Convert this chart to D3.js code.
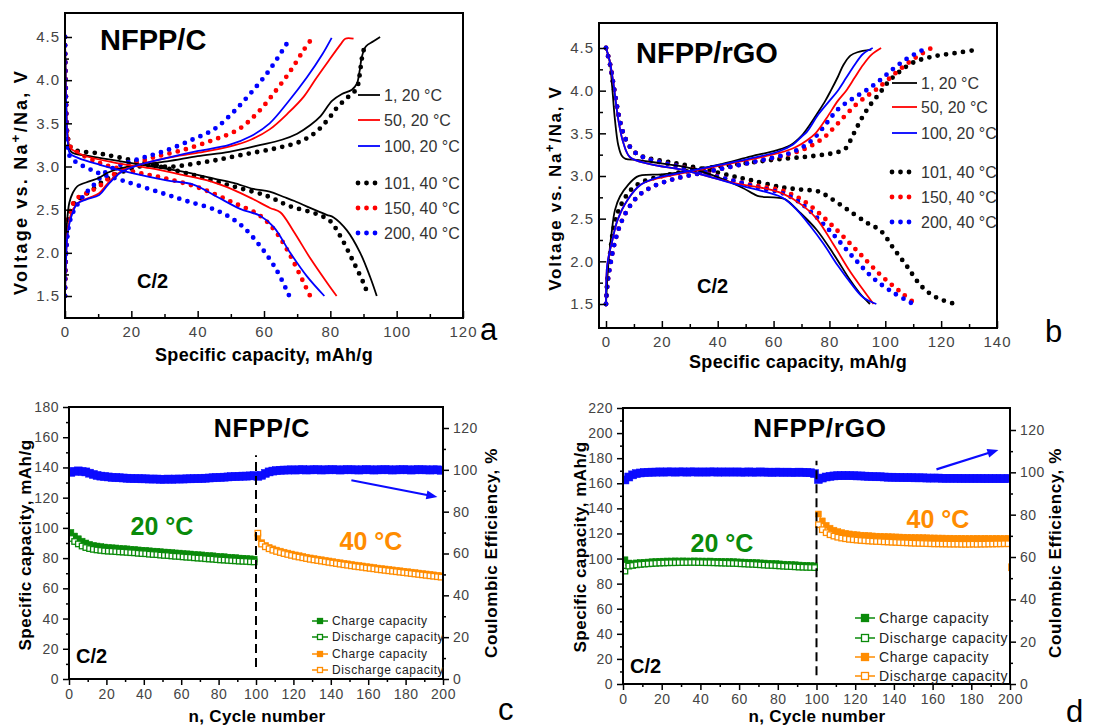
<!DOCTYPE html>
<html>
<head>
<meta charset="utf-8">
<script src="https://cdn.jsdelivr.net/npm/d3@7"></script>
<style>
  body { margin: 0; background: #fff; }
  svg text { font-family: "Liberation Sans", Arial, sans-serif; }
</style>
</head>
<body>
<svg id="fig" width="1110" height="728"></svg>
<script>
//Voltage profiles NFPP/C (panel a), points are [capacity mAh/g, voltage V]
const aCharge1 = [[0,1.5],[0.2,2.0],[0.6,2.35],[1.3,2.58],[2.3,2.69],[3.7,2.77],[7.5,2.83],[10.3,2.87],[13,2.93],[16.8,2.98],[22.4,3.02],[30.8,3.06],[40,3.12],[49.5,3.17],[59,3.25],[65.4,3.31],[70,3.38],[74,3.48],[77,3.58],[80.5,3.76],[83.5,3.84],[86.5,3.89],[88,3.96],[88.8,4.1],[89.5,4.27],[90.7,4.39],[93,4.45],[95,4.5]];
const aDis1 = [[0,4.5],[0.3,3.8],[0.8,3.35],[1.9,3.17],[7.5,3.12],[16.8,3.06],[26.2,3.0],[35.5,2.94],[44.9,2.86],[50.8,2.81],[56.8,2.74],[61.7,2.71],[65.8,2.65],[69.2,2.6],[73.9,2.52],[78.9,2.44],[81,2.41],[85,2.26],[89,2.0],[92,1.72],[94,1.5]];
const aCharge50 = [[0,1.5],[0.3,1.95],[0.9,2.27],[2.3,2.5],[4.7,2.6],[7.5,2.64],[10.3,2.69],[13,2.81],[16.8,2.94],[22.4,3.02],[30.8,3.1],[40.2,3.16],[49.5,3.23],[56,3.31],[61.7,3.43],[67.3,3.62],[72,3.81],[75.7,4.02],[79.4,4.22],[83.2,4.42],[84.5,4.48],[87,4.48]];
const aDis50 = [[0,4.5],[0.3,3.8],[0.8,3.35],[1.5,3.22],[5.5,3.13],[15.6,3.04],[25.6,2.98],[35.7,2.9],[43.7,2.83],[50.8,2.73],[56.8,2.62],[61.8,2.52],[64.9,2.47],[68.9,2.25],[73.9,1.94],[78.9,1.66],[81.9,1.5]];
const aCharge100 = [[0,1.5],[0.3,1.9],[0.7,2.19],[1.9,2.42],[3.7,2.57],[6.5,2.62],[10.3,2.67],[13,2.79],[16.8,2.93],[22.4,3.02],[30.8,3.1],[40.2,3.18],[49.5,3.25],[56,3.35],[61.7,3.5],[67.3,3.75],[72.9,4.03],[77.6,4.3],[80.4,4.49]];
const aDis100 = [[0,4.5],[0.3,3.8],[0.8,3.3],[1.5,3.15],[3.9,3.1],[10.5,3.02],[20.6,2.92],[30.6,2.84],[38.7,2.79],[45.8,2.65],[52.8,2.51],[58.8,2.43],[62.9,2.3],[67.9,2.0],[72.9,1.73],[78.2,1.5]];
const aCharge101 = [[0,1.5],[0.3,2.0],[1,2.35],[2.3,2.55],[4.7,2.64],[7.5,2.71],[12,2.84],[16.8,2.93],[22.4,3.0],[27,3.02],[30,3.0],[33,3.0],[37,3.02],[45,3.07],[54,3.14],[63.5,3.21],[71,3.29],[75.7,3.4],[79.4,3.55],[82.2,3.69],[85.5,3.81],[87.9,3.9],[88.8,4.05],[89.5,4.25],[90.5,4.42]];
const aDis101 = [[0,4.5],[0.3,3.8],[0.8,3.35],[2,3.21],[10.5,3.15],[20.6,3.07],[30.6,2.98],[40.7,2.88],[50.7,2.77],[60.8,2.66],[67.8,2.54],[75.9,2.45],[79.9,2.37],[82.9,2.2],[86.9,1.9],[90,1.65],[91.5,1.5]];
const aCharge150 = [[0,1.5],[0.3,2.0],[0.9,2.4],[3.3,2.62],[6.5,2.69],[10.3,2.77],[14,2.89],[18.7,3.0],[26.2,3.1],[35.5,3.19],[44.9,3.31],[52.3,3.43],[58,3.62],[63.6,3.88],[68.2,4.12],[72,4.35],[74.8,4.5]];
const aDis150 = [[0,4.5],[0.3,3.8],[0.8,3.35],[1.6,3.23],[10.5,3.04],[20.6,2.94],[30.6,2.86],[40.7,2.75],[50.8,2.58],[58.8,2.43],[63.8,2.23],[67.9,1.97],[71.9,1.66],[73.9,1.5]];
const aCharge200 = [[0,1.5],[0.3,2.0],[1.9,2.42],[5.6,2.66],[9.3,2.81],[12.1,2.93],[16.8,3.02],[23.4,3.1],[30.8,3.19],[38.3,3.31],[44.9,3.43],[50.5,3.62],[56,3.85],[61.7,4.12],[67.3,4.45]];
const aDis200 = [[0,4.5],[0.3,3.7],[0.8,3.25],[1.6,3.11],[8.5,2.95],[18,2.83],[28.6,2.7],[36.7,2.6],[45.8,2.49],[52.8,2.33],[58.8,2.08],[63.8,1.8],[67.5,1.51]];

//Voltage profiles NFPP/rGO (panel b)
const bCharge1 = [[0,1.5],[0.8,1.95],[2,2.33],[3.2,2.6],[5,2.76],[8,2.9],[11,2.99],[13,3.01],[20,3.02],[28,3.05],[40,3.13],[52,3.23],[61,3.3],[66,3.36],[70,3.47],[73,3.6],[76,3.75],[78.5,3.88],[80.5,4.0],[83,4.16],[85,4.3],[87.5,4.41],[90,4.45],[95,4.48]];
const bDis1 = [[0,4.5],[1.3,4.35],[2.2,4.05],[3.2,3.66],[4.4,3.36],[5.6,3.24],[7,3.2],[11,3.19],[19,3.15],[27.7,3.11],[33.6,3.06],[42,2.96],[49,2.86],[52.8,2.79],[55,2.76],[60,2.75],[64,2.73],[69.5,2.57],[75.4,2.37],[81.4,2.09],[87.4,1.78],[91,1.62],[94.5,1.5]];
const bCharge50 = [[0,1.5],[0.5,1.97],[2.3,2.25],[4.1,2.48],[7.7,2.72],[12.5,2.9],[17.2,2.96],[27,3.03],[39,3.11],[51,3.19],[62,3.27],[68,3.34],[72,3.42],[75,3.5],[79,3.68],[83,3.88],[86,4.0],[89,4.15],[92,4.3],[95,4.42],[98.5,4.5]];
const bDis50 = [[0,4.5],[1.3,4.35],[2.6,4.1],[4.4,3.66],[6.2,3.39],[8.6,3.22],[15.8,3.14],[27.7,3.07],[37.2,2.99],[46.8,2.91],[57.5,2.85],[63.5,2.79],[70.6,2.65],[75.4,2.5],[81.4,2.2],[87.4,1.88],[92,1.67],[95.8,1.5]];
const bCharge100 = [[0,1.5],[0.5,1.97],[2.3,2.25],[4.1,2.48],[7.7,2.72],[12.5,2.9],[17.2,2.97],[27,3.04],[39,3.12],[51,3.2],[62,3.29],[67,3.37],[70,3.46],[72,3.52],[76,3.72],[80,3.88],[83,4.0],[86,4.15],[89,4.3],[92,4.43],[95.5,4.5]];
const bDis100 = [[0,4.5],[1.3,4.35],[2.6,4.1],[4.4,3.66],[6.2,3.39],[8.6,3.22],[15.8,3.14],[27.7,3.07],[37.2,2.99],[46.8,2.9],[57.5,2.81],[63.5,2.74],[68.4,2.6],[73,2.42],[78,2.2],[83,1.95],[88,1.73],[92,1.58],[96.8,1.5]];
const bCharge101 = [[0,1.5],[0.5,1.8],[1.5,2.1],[2.5,2.35],[4,2.55],[6,2.7],[9,2.84],[13,2.93],[20,3.0],[30,3.06],[40,3.11],[50,3.15],[60,3.19],[70,3.22],[78,3.25],[83,3.28],[86,3.33],[88,3.45],[90,3.58],[92,3.7],[95,3.85],[98,3.97],[101,4.1],[105,4.22],[110,4.33],[117,4.4],[125,4.44],[133,4.48]];
const bDis101 = [[0,4.5],[1.5,4.3],[3,4.0],[4.5,3.72],[6,3.52],[8,3.37],[11,3.26],[15,3.21],[25,3.15],[35,3.08],[45,3.0],[52,2.95],[62.5,2.87],[70,2.84],[76,2.82],[80.4,2.74],[86.3,2.61],[93.5,2.45],[98.3,2.36],[103,2.15],[107.8,1.94],[112.6,1.72],[117,1.6],[121,1.54],[125,1.5]];
const bCharge150 = [[0,1.5],[0.6,1.75],[1.5,1.95],[3,2.2],[5,2.42],[8,2.62],[12,2.78],[17,2.88],[25,2.97],[35,3.04],[45,3.11],[55,3.18],[65,3.25],[72,3.33],[78,3.45],[82,3.58],[86,3.72],[90,3.85],[94,3.95],[97,4.02],[101,4.13],[106,4.27],[111,4.39],[116.5,4.5]];
const bDis150 = [[0,4.5],[1.5,4.3],[3,4.0],[4.5,3.72],[6,3.52],[8,3.37],[11,3.26],[15,3.2],[25,3.12],[35,3.04],[45,2.95],[55,2.88],[63,2.83],[68,2.76],[73.2,2.65],[81.6,2.4],[90,2.12],[98.3,1.84],[105.5,1.64],[110.8,1.5]];
const bCharge200 = [[0,1.5],[0.6,1.75],[1.5,1.95],[3,2.2],[5,2.42],[8,2.62],[12,2.78],[17,2.88],[25,2.97],[35,3.04],[45,3.11],[55,3.18],[65,3.26],[71,3.35],[75,3.46],[79,3.62],[83,3.78],[88,3.9],[93,4.0],[98,4.12],[103,4.26],[108,4.38],[113,4.47]];
const bDis200 = [[0,4.5],[1.5,4.3],[3,4.0],[4.5,3.72],[6,3.52],[8,3.37],[11,3.26],[15,3.2],[25,3.12],[35,3.03],[45,2.95],[55,2.86],[63,2.8],[68,2.72],[72,2.62],[80.4,2.35],[88.7,2.04],[95.8,1.8],[103,1.63],[110,1.5]];

//Curve names (legend) and colours
const curveNames = ["1, 20 °C", "50, 20 °C", "100, 20 °C", "101, 40 °C", "150, 40 °C", "200, 40 °C"];
const curveColors = ["#000000", "#ff0000", "#0000ff", "#000000", "#ff0000", "#0000ff"];

//Cycling data, every second cycle
const cycles20 = [1,3,5,7,9,11,13,15,17,19,21,23,25,27,29,31,33,35,37,39,41,43,45,47,49,51,53,55,57,59,61,63,65,67,69,71,73,75,77,79,81,83,85,87,89,91,93,95,97,99];
const cycles40 = [101,103,105,107,109,111,113,115,117,119,121,123,125,127,129,131,133,135,137,139,141,143,145,147,149,151,153,155,157,159,161,163,165,167,169,171,173,175,177,179,181,183,185,187,189,191,193,195,197,199];

//NFPP/C (panel c), mAh/g and %
const cCharge20 = [97.0,94.6,92.8,91.2,90.0,89.1,88.4,88.0,87.6,87.3,87.0,86.8,86.7,86.4,86.2,86.1,85.8,85.7,85.4,85.2,85.1,84.8,84.6,84.5,84.2,84.0,83.9,83.6,83.4,83.3,83.0,82.8,82.7,82.4,82.2,82.1,81.8,81.6,81.5,81.2,81.0,80.9,80.6,80.4,80.3,80.0,79.9,79.7,79.5,79.3];
const cDischarge20 = [93.0,91.0,89.4,88.0,87.0,86.3,85.8,85.4,85.1,84.8,84.6,84.5,84.3,84.1,84.0,83.8,83.6,83.5,83.2,83.0,82.9,82.6,82.4,82.3,82.0,81.8,81.7,81.4,81.2,81.1,80.8,80.6,80.5,80.2,80.0,79.9,79.6,79.4,79.3,79.0,78.8,78.7,78.5,78.3,78.2,78.0,77.9,77.8,77.6,77.5];
const cCharge40 = [94.0,90.2,88.4,87.1,86.1,85.3,84.6,83.9,83.3,82.7,82.1,81.6,81.1,80.6,80.1,79.7,79.3,78.9,78.5,78.1,77.7,77.3,76.9,76.5,76.2,75.8,75.4,75.1,74.8,74.4,74.1,73.8,73.4,73.1,72.8,72.5,72.2,71.9,71.6,71.3,71.0,70.7,70.4,70.1,69.8,69.5,69.2,68.9,68.6,68.3];
const cDischarge40 = [96.5,89.3,87.5,86.2,85.2,84.4,83.7,83.0,82.4,81.8,81.2,80.7,80.2,79.7,79.2,78.8,78.4,78.0,77.6,77.2,76.8,76.4,76.0,75.6,75.3,74.9,74.5,74.2,73.9,73.5,73.2,72.9,72.5,72.2,71.9,71.6,71.3,71.0,70.7,70.4,70.1,69.8,69.5,69.2,68.9,68.6,68.3,68.0,67.7,67.4];
const cCE20 = [98.8,99.3,99.5,99.2,99.0,98.4,97.8,97.3,97.0,96.8,96.6,96.4,96.3,96.2,96.1,96.0,95.9,95.8,95.8,95.7,95.7,95.6,95.6,95.6,95.5,95.5,95.6,95.5,95.6,95.6,95.6,95.7,95.7,95.8,95.8,95.9,96.0,96.1,96.2,96.3,96.4,96.5,96.6,96.7,96.8,96.9,97.0,97.0,97.1,97.2];
const cCE40 = [96.9,97.4,98.3,99.0,99.4,99.6,99.8,99.9,99.9,100.0,99.9,100.0,100.1,99.9,100.0,100.0,100.1,99.9,100.0,100.0,100.1,100.0,99.9,100.0,100.1,100.0,100.0,99.9,100.0,100.1,100.0,99.9,100.0,100.0,100.1,100.0,99.9,100.0,100.0,100.1,100.0,99.9,100.0,100.1,100.0,100.0,99.9,100.0,100.0,99.8];

//NFPP/rGO (panel d)
const dCharge20 = [99.0,96.4,96.0,96.5,96.8,97.0,97.2,97.4,97.6,97.8,97.9,98.0,98.0,98.1,98.0,98.1,98.0,98.0,98.1,98.0,98.0,97.9,98.0,97.8,97.8,97.7,97.6,97.6,97.5,97.3,97.2,97.1,97.0,96.8,96.7,96.5,96.4,96.2,96.0,95.9,95.7,95.5,95.3,95.2,95.0,94.8,94.6,94.5,94.3,94.2];
const dDischarge20 = [90.0,94.0,94.5,95.0,95.3,95.6,95.8,96.0,96.2,96.4,96.5,96.6,96.7,96.7,96.8,96.8,96.8,96.9,96.9,96.8,96.8,96.7,96.7,96.6,96.5,96.4,96.3,96.2,96.1,96.0,95.8,95.7,95.5,95.4,95.2,95.0,94.8,94.6,94.5,94.3,94.1,93.9,93.7,93.6,93.4,93.2,93.1,93.0,92.9,92.8];
const dCharge40 = [135.5,130.0,126.5,124.2,122.6,121.5,120.7,120.1,119.6,119.2,118.9,118.6,118.4,118.2,118.0,117.8,117.7,117.5,117.4,117.3,117.2,117.1,117.0,116.9,116.8,116.7,116.6,116.6,116.5,116.4,116.4,116.3,116.3,116.2,116.2,116.1,116.1,116.1,116.0,116.0,116.0,116.1,116.0,116.1,116.0,116.0,116.1,116.0,116.0,116.1];
const dDischarge40 = [127.0,123.0,120.6,119.0,117.9,117.0,116.3,115.8,115.3,115.0,114.7,114.4,114.2,114.0,113.8,113.6,113.5,113.3,113.2,113.0,112.9,112.7,112.6,112.5,112.3,112.2,112.1,112.0,111.9,111.8,111.7,111.7,111.6,111.6,111.5,111.5,111.5,111.4,111.4,111.4,111.5,111.4,111.5,111.5,111.6,111.6,111.7,111.7,111.8,111.8];
const dCE20 = [96.4,97.8,98.8,99.4,99.7,99.9,100.0,100.1,100.1,100.2,100.1,100.2,100.2,100.1,100.2,100.2,100.1,100.2,100.2,100.1,100.2,100.1,100.2,100.2,100.1,100.2,100.1,100.2,100.1,100.2,100.1,100.1,100.2,100.1,100.1,100.2,100.1,100.1,100.0,100.1,100.1,100.0,100.1,100.0,100.0,100.1,100.0,99.9,99.8,99.4];
const dCE40 = [96.6,97.3,97.8,98.1,98.3,98.4,98.4,98.5,98.4,98.4,98.3,98.3,98.2,98.1,98.0,97.9,97.9,97.8,97.7,97.7,97.6,97.6,97.5,97.5,97.5,97.4,97.4,97.4,97.3,97.3,97.3,97.3,97.2,97.2,97.2,97.2,97.2,97.1,97.1,97.1,97.1,97.1,97.1,97.0,97.1,97.0,97.1,97.0,97.0,97.1];
const dLastCharge = [[201, 93]]; //half cut off point at the right frame

//Arrows in cycle/% units, and the temperature change marker
const cArrow = [[151, 95], [197, 87]];
const dArrow = [[162, 101.4], [194, 110.6]];
const cSwitch = [[100, 8], [100, 148]];
const dSwitch = [[100, 7], [100, 178]];

//Tick values
const voltTicks = [1.5, 2.0, 2.5, 3.0, 3.5, 4.0, 4.5];
const voltMinor = [1.75, 2.25, 2.75, 3.25, 3.75, 4.25];
const aCapTicks = [0, 20, 40, 60, 80, 100, 120];
const aCapMinor = [10, 30, 50, 70, 90, 110];
const bCapTicks = [0, 20, 40, 60, 80, 100, 120, 140];
const bCapMinor = [10, 30, 50, 70, 90, 110, 130];
const cycleTicks = [0, 20, 40, 60, 80, 100, 120, 140, 160, 180, 200];
const cycleMinor = [10, 30, 50, 70, 90, 110, 130, 150, 170, 190];
const cCapTicks = [0, 20, 40, 60, 80, 100, 120, 140, 160, 180];
const cCapMinor = [10, 30, 50, 70, 90, 110, 130, 150, 170];
const dCapTicks = [0, 20, 40, 60, 80, 100, 120, 140, 160, 180, 200, 220];
const dCapMinor = [10, 30, 50, 70, 90, 110, 130, 150, 170, 190, 210];
const ceTicks = [0, 20, 40, 60, 80, 100, 120];
const ceMinor = [10, 30, 50, 70, 90, 110];
const cycleLegend = ["Charge capacity", "Discharge capacity", "Charge capacity", "Discharge capacity"];

const GREEN = "#0a8a0a";
const ORANGE = "#ff8c00";
const BLUE = "#0b0bff";

const svg = d3.select("#fig");

//Adds an axis, removes its line and styles its texts
function addAxis(g, gen, tx, ty, fontSize, spacing) {
  const a = g.append("g")
    .attr("transform", `translate(${tx},${ty})`)
    .call(gen)
    .attr("font-size", fontSize);
  a.select(".domain").remove();
  a.selectAll(".tick line").attr("stroke", "#000").attr("stroke-width", 1.5);
  a.selectAll("text").attr("fill", "#444").style("letter-spacing", spacing + "px");
  return a;
}

//Plain text helper
function label(g, txt, x, y, o) {
  o = o || {};
  const t = g.append("text")
    .attr("x", x).attr("y", y)
    .attr("font-size", o.size || 16)
    .attr("font-weight", o.bold ? "bold" : null)
    .attr("fill", o.color || "#000")
    .attr("text-anchor", o.anchor || "start")
    .style("letter-spacing", (o.ls || 0) + "px")
    .text(txt);
  if (o.rotate) t.attr("transform", `rotate(${o.rotate},${x},${y})`);
  if (o.middle) t.attr("dominant-baseline", "central");
  return t;
}

//Rotated voltage label with a superscript +
function voltLabel(g, x, y, size, ls) {
  const t = g.append("text")
    .attr("transform", `translate(${x},${y}) rotate(-90)`)
    .attr("text-anchor", "middle")
    .attr("font-size", size).attr("font-weight", "bold")
    .style("letter-spacing", ls + "px");
  t.append("tspan").text("Voltage vs. Na");
  t.append("tspan").attr("dy", -size * 0.4).attr("font-size", size * 0.75).text("+");
  t.append("tspan").attr("dy", size * 0.4).text("/Na, V");
}

function clip(id, box) {
  svg.append("clipPath").attr("id", id).append("rect")
    .attr("x", box[0]).attr("y", box[1])
    .attr("width", box[2] - box[0]).attr("height", box[3] - box[1]);
}

//Voltage vs capacity panel (a, b)
function voltagePanel(cfg) {
  const [L, T, R, B] = cfg.box;
  const x = d3.scaleLinear().domain(cfg.xDomain).range(cfg.xRange);
  const y = d3.scaleLinear().domain([1.5, 4.5]).range(cfg.yRange);
  const g = svg.append("g");
  clip(cfg.id, cfg.box);
  const plot = g.append("g").attr("clip-path", `url(#${cfg.id})`);
  const line = d3.line().x(d => x(d[0])).y(d => y(d[1])).curve(d3.curveCatmullRom.alpha(0.5));

  //40 C dotted first, 20 C solid on top
  [3, 4, 5, 0, 1, 2].forEach(i => {
    const dotted = i >= 3;
    cfg.curves[i].forEach(c => {
      plot.append("path")
        .attr("d", line(c))
        .attr("fill", "none")
        .attr("stroke", curveColors[i])
        .attr("stroke-width", dotted ? 4.8 : 1.8)
        .attr("stroke-linecap", dotted ? "round" : "butt")
        .attr("stroke-dasharray", dotted ? "0,8.5" : null);
    });
  });

  //axes, ticks point inward
  addAxis(g, d3.axisBottom(x).tickValues(cfg.xTicks).tickSize(-7).tickPadding(8).tickFormat(d3.format("d")), 0, B, 15, 1);
  addAxis(g, d3.axisBottom(x).tickValues(cfg.xMinor).tickSize(-4).tickFormat(""), 0, B, 15, 0);
  addAxis(g, d3.axisLeft(y).tickValues(voltTicks).tickSize(-7).tickPadding(5).tickFormat(d3.format(".1f")), L, 0, 15, 1);
  addAxis(g, d3.axisLeft(y).tickValues(voltMinor).tickSize(-4).tickFormat(""), L, 0, 15, 0);

  g.append("rect").attr("x", L).attr("y", T).attr("width", R - L).attr("height", B - T)
    .attr("fill", "none").attr("stroke", "#000").attr("stroke-width", 2);

  //legend
  curveNames.forEach((name, i) => {
    const ly = cfg.legendY[i];
    const dotted = i >= 3;
    g.append("line")
      .attr("x1", cfg.legendX[0]).attr("x2", cfg.legendX[1])
      .attr("y1", ly).attr("y2", ly)
      .attr("stroke", curveColors[i])
      .attr("stroke-width", dotted ? 4.8 : 1.8)
      .attr("stroke-linecap", dotted ? "round" : "butt")
      .attr("stroke-dasharray", dotted ? "0,8.5" : null);
    label(g, name, cfg.legendX[1] + 4, ly, { size: 16, color: "#333", middle: true });
  });

  label(g, cfg.title, cfg.titlePos[0], cfg.titlePos[1], { size: 29, bold: true });
  label(g, "C/2", cfg.ratePos[0], cfg.ratePos[1], { size: 20, bold: true });
  label(g, "Specific capacity, mAh/g", cfg.xLabel[0], cfg.xLabel[1], { size: 18, bold: true, anchor: "middle", ls: 0.3 });
  voltLabel(g, cfg.yLabel[0], cfg.yLabel[1], cfg.yLabel[2], cfg.yLabel[3]);
  label(g, cfg.letter, cfg.letterPos[0], cfg.letterPos[1], { size: 31 });
}

//Capacity & coulombic efficiency vs cycle number (c, d)
function cyclePanel(cfg) {
  const [L, T, R, B] = cfg.box;
  const x = d3.scaleLinear().domain([0, 200]).range([L, R]);
  const yL = d3.scaleLinear().domain([0, cfg.capMax]).range([B, T]);
  const yR = d3.scaleLinear().domain([0, 120]).range([B, cfg.ceTop]);
  const g = svg.append("g");
  clip(cfg.id, cfg.box);
  const plot = g.append("g").attr("clip-path", `url(#${cfg.id})`);

  function series(xs, ys, scale, color, filled, size) {
    const pts = d3.zip(xs, ys);
    plot.append("path")
      .attr("d", d3.line().x(d => x(d[0])).y(d => scale(d[1]))(pts))
      .attr("fill", "none").attr("stroke", color).attr("stroke-width", 1);
    plot.selectAll(null).data(pts).join("rect")
      .attr("x", d => x(d[0]) - size / 2)
      .attr("y", d => scale(d[1]) - size / 2)
      .attr("width", size).attr("height", size)
      .attr("fill", filled ? color : "#fff")
      .attr("stroke", color).attr("stroke-width", filled ? 0.5 : 1.3);
  }

  series(cycles20, cfg.ce20, yR, BLUE, true, 8);
  series(cycles40, cfg.ce40, yR, BLUE, true, 8);
  series(cycles20, cfg.charge20, yL, GREEN, true, 6);
  series(cycles20, cfg.discharge20, yL, GREEN, false, 5.5);
  series(cycles40, cfg.charge40, yL, ORANGE, true, 6);
  series(cycles40, cfg.discharge40, yL, ORANGE, false, 5.5);
  if (cfg.extra) series(cfg.extra.map(d => d[0]), cfg.extra.map(d => d[1]), yL, ORANGE, true, 7);

  //temperature switch
  g.append("line")
    .attr("x1", x(cfg.switchLine[0][0])).attr("x2", x(cfg.switchLine[1][0]))
    .attr("y1", yL(cfg.switchLine[0][1])).attr("y2", yL(cfg.switchLine[1][1]))
    .attr("stroke", "#000").attr("stroke-width", 2).attr("stroke-dasharray", "9,5");

  //trend arrow
  const [a0, a1] = cfg.arrow;
  const ax0 = x(a0[0]), ay0 = yR(a0[1]), ax1 = x(a1[0]), ay1 = yR(a1[1]);
  const ang = Math.atan2(ay1 - ay0, ax1 - ax0);
  g.append("line").attr("x1", ax0).attr("y1", ay0)
    .attr("x2", ax1 - 8 * Math.cos(ang)).attr("y2", ay1 - 8 * Math.sin(ang))
    .attr("stroke", BLUE).attr("stroke-width", 2.2);
  const head = [[ax1, ay1],
    [ax1 - 11 * Math.cos(ang) + 4.5 * Math.sin(ang), ay1 - 11 * Math.sin(ang) - 4.5 * Math.cos(ang)],
    [ax1 - 11 * Math.cos(ang) - 4.5 * Math.sin(ang), ay1 - 11 * Math.sin(ang) + 4.5 * Math.cos(ang)]];
  g.append("path").attr("d", d3.line()(head) + "Z").attr("fill", BLUE);

  //axes, ticks point outward
  addAxis(g, d3.axisBottom(x).tickValues(cycleTicks).tickSize(6).tickPadding(4), 0, B, 14, 0.5);
  addAxis(g, d3.axisBottom(x).tickValues(cycleMinor).tickSize(3).tickFormat(""), 0, B, 14, 0);
  addAxis(g, d3.axisLeft(yL).tickValues(cfg.capTicks).tickSize(6).tickPadding(4), L, 0, 14, 0.5);
  addAxis(g, d3.axisLeft(yL).tickValues(cfg.capMinor).tickSize(3).tickFormat(""), L, 0, 14, 0);
  addAxis(g, d3.axisRight(yR).tickValues(ceTicks).tickSize(6).tickPadding(4), R, 0, 14, 0.5);
  addAxis(g, d3.axisRight(yR).tickValues(ceMinor).tickSize(3).tickFormat(""), R, 0, 14, 0);

  g.append("rect").attr("x", L).attr("y", T).attr("width", R - L).attr("height", B - T)
    .attr("fill", "none").attr("stroke", "#000").attr("stroke-width", 2);

  //legend
  const legColors = [GREEN, GREEN, ORANGE, ORANGE];
  cycleLegend.forEach((name, i) => {
    const ly = cfg.legendY[i];
    const lx0 = cfg.legendX[0], lx1 = cfg.legendX[1];
    const s = cfg.legendSize;
    g.append("line").attr("x1", lx0).attr("x2", lx1).attr("y1", ly).attr("y2", ly)
      .attr("stroke", legColors[i]).attr("stroke-width", 1.5);
    g.append("rect").attr("x", (lx0 + lx1) / 2 - s / 2).attr("y", ly - s / 2)
      .attr("width", s).attr("height", s)
      .attr("fill", i % 2 === 0 ? legColors[i] : "#fff")
      .attr("stroke", legColors[i]).attr("stroke-width", 1.3);
    label(g, name, lx1 + 4, ly, { size: cfg.legendFont, color: "#222", middle: true, ls: 0.6 });
  });

  label(g, cfg.title, cfg.titlePos[0], cfg.titlePos[1], { size: cfg.titleSize, bold: true, anchor: "middle", ls: 0.8 });
  label(g, "20 °C", cfg.t20[0], cfg.t20[1], { size: 25, bold: true, anchor: "middle", color: GREEN });
  label(g, "40 °C", cfg.t40[0], cfg.t40[1], { size: 25, bold: true, anchor: "middle", color: ORANGE });
  label(g, "C/2", cfg.ratePos[0], cfg.ratePos[1], { size: 20, bold: true });
  label(g, "n, Cycle number", cfg.xLabel[0], cfg.xLabel[1], { size: 17, bold: true, anchor: "middle", ls: 0.3 });
  label(g, "Specific capacity, mAh/g", cfg.yLabel[0], cfg.yLabel[1], { size: 17, bold: true, anchor: "middle", rotate: -90, ls: 0.5 });
  label(g, "Coulombic Efficiency, %", cfg.y2Label[0], cfg.y2Label[1], { size: 17, bold: true, anchor: "middle", rotate: -90, ls: 0.6 });
  label(g, cfg.letter, cfg.letterPos[0], cfg.letterPos[1], { size: 31 });
}

voltagePanel({
  id: "clipA", box: [65, 13, 463, 318],
  xDomain: [0, 120], xRange: [65, 463], yRange: [296, 37],
  xTicks: aCapTicks, xMinor: aCapMinor,
  curves: [[aCharge1, aDis1], [aCharge50, aDis50], [aCharge100, aDis100],
           [aCharge101, aDis101], [aCharge150, aDis150], [aCharge200, aDis200]],
  legendX: [358, 380], legendY: [95, 120, 146, 183, 208, 233],
  title: "NFPP/C", titlePos: [100, 50], ratePos: [137, 288],
  xLabel: [264, 361], yLabel: [27, 182, 18, 2.2],
  letter: "a", letterPos: [480, 340]
});

voltagePanel({
  id: "clipB", box: [599, 23, 997, 328],
  xDomain: [0, 140], xRange: [606, 997], yRange: [304, 48],
  xTicks: bCapTicks, xMinor: bCapMinor,
  curves: [[bCharge1, bDis1], [bCharge50, bDis50], [bCharge100, bDis100],
           [bCharge101, bDis101], [bCharge150, bDis150], [bCharge200, bDis200]],
  legendX: [892, 917], legendY: [83, 107, 133, 172, 197, 222],
  title: "NFPP/rGO", titlePos: [636, 63], ratePos: [697, 293],
  xLabel: [798, 368], yLabel: [561, 188, 17, 1.7],
  letter: "b", letterPos: [1045, 342]
});

cyclePanel({
  id: "clipC", box: [69, 407, 443, 679], capMax: 180, ceTop: 428,
  capTicks: cCapTicks, capMinor: cCapMinor,
  charge20: cCharge20, discharge20: cDischarge20, charge40: cCharge40, discharge40: cDischarge40,
  ce20: cCE20, ce40: cCE40, arrow: cArrow, switchLine: cSwitch,
  legendX: [312, 328], legendY: [621, 637, 654, 670], legendSize: 5, legendFont: 12,
  title: "NFPP/C", titlePos: [262, 437], titleSize: 25,
  t20: [162, 535], t40: [371, 550], ratePos: [76, 663],
  xLabel: [257, 722], yLabel: [31, 545], y2Label: [497, 553],
  letter: "c", letterPos: [498, 720]
});

cyclePanel({
  id: "clipD", box: [623, 408, 1010, 684], capMax: 220, ceTop: 430,
  capTicks: dCapTicks, capMinor: dCapMinor,
  charge20: dCharge20, discharge20: dDischarge20, charge40: dCharge40, discharge40: dDischarge40,
  ce20: dCE20, ce40: dCE40, extra: dLastCharge, arrow: dArrow, switchLine: dSwitch,
  legendX: [855, 875], legendY: [618, 638, 657, 676], legendSize: 7, legendFont: 14,
  title: "NFPP/rGO", titlePos: [820, 437], titleSize: 26,
  t20: [722, 552], t40: [938, 528], ratePos: [630, 673],
  xLabel: [817, 722], yLabel: [586, 547], y2Label: [1061, 553],
  letter: "d", letterPos: [1066, 722]
});
</script>
</body>
</html>
